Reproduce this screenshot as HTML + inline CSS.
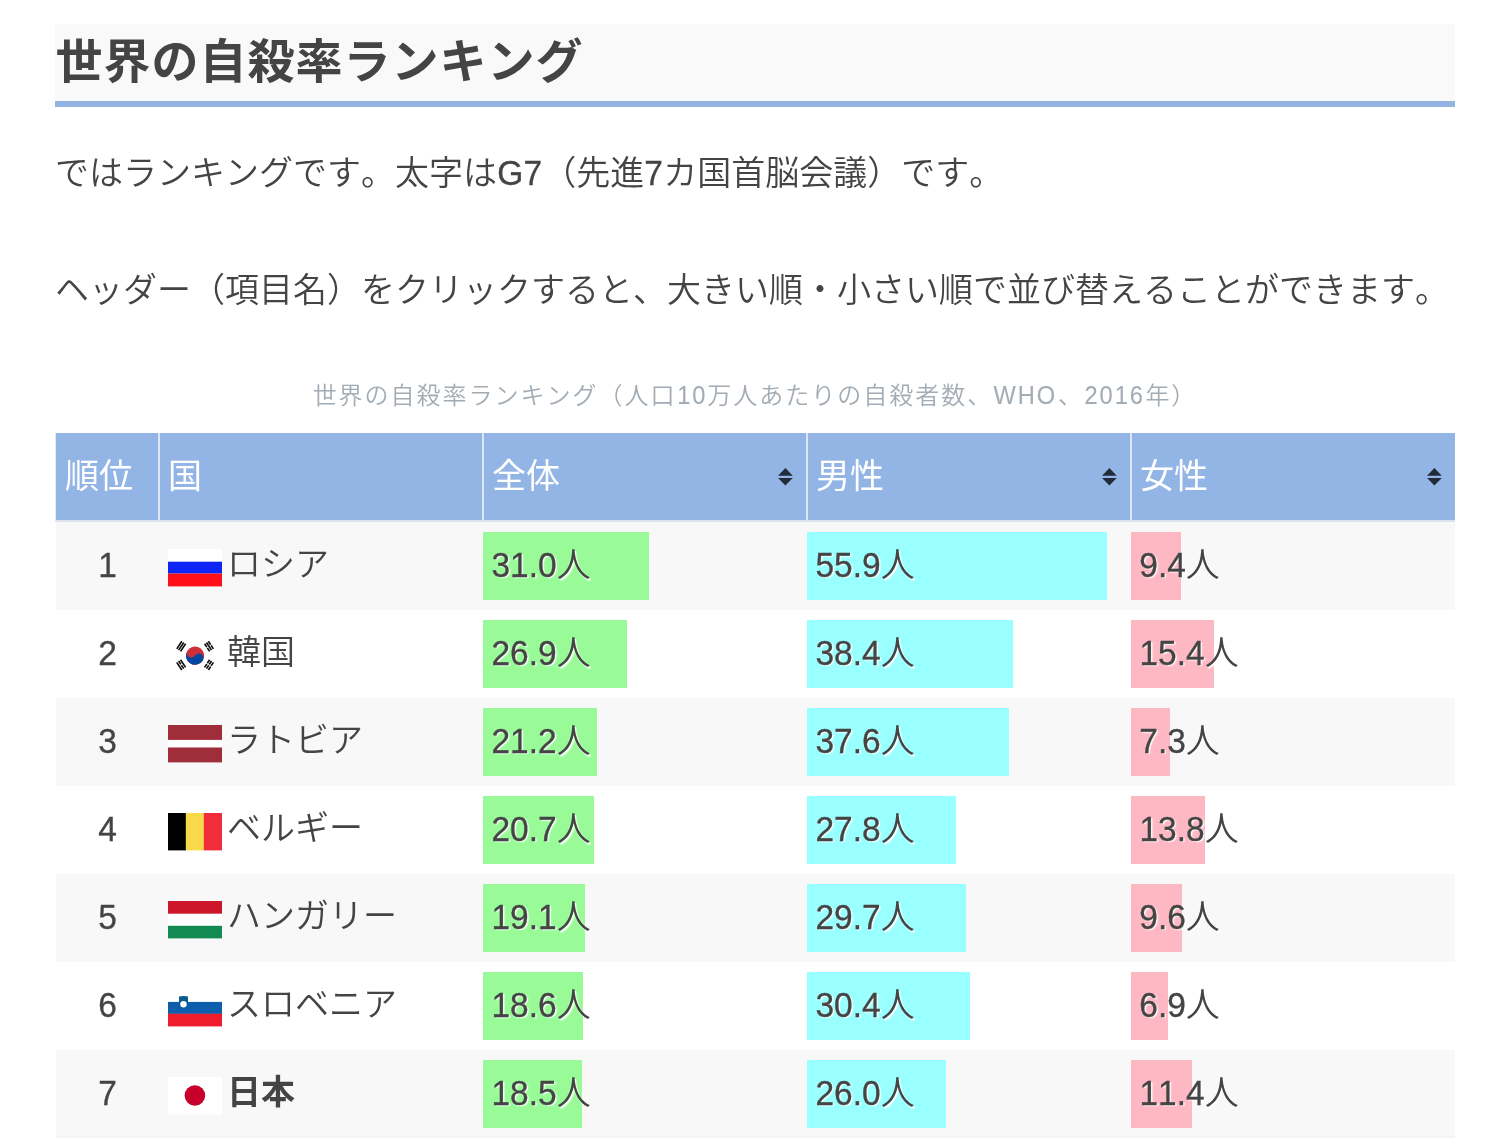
<!DOCTYPE html>
<html lang="ja">
<head>
<meta charset="utf-8">
<title>世界の自殺率ランキング</title>
<style>
*{box-sizing:border-box;margin:0;padding:0}
html,body{width:1504px;height:1148px;background:#fff;overflow:hidden}
body{position:relative;font-family:"Liberation Sans","Noto Sans CJK JP",sans-serif;color:#444;font-size:34px;font-weight:350;font-kerning:none;text-spacing-trim:space-all}
h2{position:absolute;left:55px;top:24px;width:1400px;height:83px;background:#f9f9f9;border-bottom:6px solid #93b3e3;font-size:47px;letter-spacing:1px;font-weight:bold;line-height:70px;padding:3px 0 0 .5px;color:#444;white-space:nowrap}
p{position:absolute;left:55px;width:1440px;white-space:nowrap;line-height:60px;height:60px;font-size:34px}
#p1{top:143px}
#p2{top:260px}
.cap{position:absolute;left:55px;width:1400px;top:378px;text-align:center;font-size:24px;line-height:36px;color:#a3acb5;letter-spacing:2px;white-space:nowrap}
table{position:absolute;left:56px;top:433px;width:1399px;border-collapse:separate;border-spacing:0;table-layout:fixed}
th{height:89px;background:#93b5e6;color:#fff;font-weight:normal;text-align:left;padding:0 0 2px 8px;border-right:2px solid #dde7f5;border-bottom:2px solid #dde3ec;position:relative;vertical-align:middle;line-height:60px}
th:last-child{border-right:0}
th:first-child{padding-left:9px;box-shadow:-1px 0 0 #e3e9f3}
tbody tr:last-child td{box-shadow:inset 0 -2px 0 #f4f4f4}
td{height:88px;vertical-align:middle;position:relative;padding:0;line-height:60px}
tbody tr:nth-child(odd) td{background:#f8f8f8}
td.r{text-align:center;padding:0 2px 2px 0}
td.c{padding-left:8px}
td.c span{position:relative;top:-2px;margin-left:59px}
.bar{position:absolute;left:-1px;top:10px;height:68px}
.g{background:#98fb98}.b{background:#9ff}.k{background:#feb8c3}
.v{position:absolute;left:6.5px;top:13px;line-height:60px;text-shadow:1.5px 1.5px 1.5px #fff;white-space:nowrap}
.flag{position:absolute;left:8px;top:27.3px;width:54px;height:37.4px}
.sort{position:absolute;right:13.4px;top:35.2px;width:14.8px;height:17.6px}
b{font-weight:bold}
i{font-style:normal;display:inline-block;transform:scale(.985,1.035);transform-origin:50% 78%;-webkit-text-stroke:.3px currentColor}
.cap i{-webkit-text-stroke:.1px currentColor}
</style>
</head>
<body>
<h2>世界の自殺率ランキング</h2>
<p id="p1">ではランキングです。太字は<i>G7</i>（先進<i>7</i>カ国首脳会議）です。</p>
<p id="p2">ヘッダー（項目名）をクリックすると、大きい順・小さい順で並び替えることができます。</p>
<div class="cap">世界の自殺率ランキング（人口<i>10</i>万人あたりの自殺者数、<i>WHO</i>、<i>2016</i>年）</div>
<table>
<colgroup><col style="width:104px"><col style="width:324px"><col style="width:324px"><col style="width:324px"><col style="width:323px"></colgroup>
<thead><tr>
<th>順位</th><th>国</th>
<th>全体<svg class="sort" viewBox="0 0 15 18"><path d="M7.5 0L15 8H0Z M0 10.2H15L7.5 18Z" fill="#222b38"/></svg></th>
<th>男性<svg class="sort" viewBox="0 0 15 18"><path d="M7.5 0L15 8H0Z M0 10.2H15L7.5 18Z" fill="#222b38"/></svg></th>
<th>女性<svg class="sort" viewBox="0 0 15 18"><path d="M7.5 0L15 8H0Z M0 10.2H15L7.5 18Z" fill="#222b38"/></svg></th>
</tr></thead>
<tbody>
<tr><td class="r"><i>1</i></td><td class="c"><svg class="flag" viewBox="0 0 54 37.4" preserveAspectRatio="none"><rect width="54" height="37.4" fill="#fff"/><rect y="12.7" width="54" height="11.9" fill="#0c24f6"/><rect y="24.6" width="54" height="12.8" fill="#ff1019"/></svg><span>ロシア</span></td><td><div class="bar g" style="width:166px"></div><span class="v"><i>31.0</i>人</span></td><td><div class="bar b" style="width:300px"></div><span class="v"><i>55.9</i>人</span></td><td><div class="bar k" style="width:50px"></div><span class="v"><i>9.4</i>人</span></td></tr>
<tr><td class="r"><i>2</i></td><td class="c"><svg class="flag" viewBox="0 0 54 37.4" preserveAspectRatio="none"><rect width="54" height="37.4" fill="#fff"/><g transform="translate(27.1,18.6) scale(0.76)"><g transform="rotate(-56.31)"><path d="M-6-25H6M-6-22H6M-6-19H6M-6 19H6M-6 22H6M-6 25H6" stroke="#111" stroke-width="2.2"/><path d="M0 17v10" stroke="#fff" stroke-width="1.2"/><circle r="12" fill="#cd2e3a"/><path d="M0-12A6 6 0 0 0 0 0A6 6 0 0 1 0 12A12 12 0 0 1 0-12Z" fill="#0047a0"/></g><g transform="rotate(-123.69)"><path d="M-6-25H6M-6-22H6M-6-19H6M-6 19H6M-6 22H6M-6 25H6" stroke="#111" stroke-width="2.2"/><path d="M0-23.5v3M0 17v3.5M0 23.5v3" stroke="#fff" stroke-width="1.2"/></g></g></svg><span>韓国</span></td><td><div class="bar g" style="width:144px"></div><span class="v"><i>26.9</i>人</span></td><td><div class="bar b" style="width:206px"></div><span class="v"><i>38.4</i>人</span></td><td><div class="bar k" style="width:83px"></div><span class="v"><i>15.4</i>人</span></td></tr>
<tr><td class="r"><i>3</i></td><td class="c"><svg class="flag" viewBox="0 0 54 37.4" preserveAspectRatio="none"><rect width="54" height="37.4" fill="#a02d3a"/><rect y="14.9" width="54" height="7.6" fill="#fff"/></svg><span>ラトビア</span></td><td><div class="bar g" style="width:114px"></div><span class="v"><i>21.2</i>人</span></td><td><div class="bar b" style="width:202px"></div><span class="v"><i>37.6</i>人</span></td><td><div class="bar k" style="width:39px"></div><span class="v"><i>7.3</i>人</span></td></tr>
<tr><td class="r"><i>4</i></td><td class="c"><svg class="flag" viewBox="0 0 54 37.4" preserveAspectRatio="none"><rect width="18" height="37.4" fill="#000"/><rect x="17.8" width="18.2" height="37.4" fill="#f8d94a"/><rect x="35.8" width="18.2" height="37.4" fill="#f12d3c"/></svg><span>ベルギー</span></td><td><div class="bar g" style="width:111px"></div><span class="v"><i>20.7</i>人</span></td><td><div class="bar b" style="width:149px"></div><span class="v"><i>27.8</i>人</span></td><td><div class="bar k" style="width:74px"></div><span class="v"><i>13.8</i>人</span></td></tr>
<tr><td class="r"><i>5</i></td><td class="c"><svg class="flag" viewBox="0 0 54 37.4" preserveAspectRatio="none"><rect width="54" height="37.4" fill="#fff"/><rect width="54" height="12.7" fill="#cd1629"/><rect y="24.8" width="54" height="12.6" fill="#128a52"/></svg><span>ハンガリー</span></td><td><div class="bar g" style="width:102px"></div><span class="v"><i>19.1</i>人</span></td><td><div class="bar b" style="width:159px"></div><span class="v"><i>29.7</i>人</span></td><td><div class="bar k" style="width:51px"></div><span class="v"><i>9.6</i>人</span></td></tr>
<tr><td class="r"><i>6</i></td><td class="c"><svg class="flag" viewBox="0 0 54 37.4" preserveAspectRatio="none"><rect width="54" height="37.4" fill="#fff"/><rect y="12.9" width="54" height="12" fill="#0d5fae"/><rect y="24.8" width="54" height="12.6" fill="#ee1c2c"/><path d="M11 7.6Q15.5 6.4 20 7.6V14.5Q20 18.6 15.5 19.6Q11 18.6 11 14.5Z" fill="#0b5a8e"/><circle cx="15.5" cy="15.3" r="3.2" fill="#fff"/></svg><span>スロベニア</span></td><td><div class="bar g" style="width:100px"></div><span class="v"><i>18.6</i>人</span></td><td><div class="bar b" style="width:163px"></div><span class="v"><i>30.4</i>人</span></td><td><div class="bar k" style="width:37px"></div><span class="v"><i>6.9</i>人</span></td></tr>
<tr><td class="r"><i>7</i></td><td class="c"><svg class="flag" viewBox="0 0 54 37.4" preserveAspectRatio="none"><rect width="54" height="37.4" fill="#fff"/><circle cx="26.9" cy="18.5" r="10.3" fill="#c6002b"/></svg><span><b>日本</b></span></td><td><div class="bar g" style="width:99px"></div><span class="v"><i>18.5</i>人</span></td><td><div class="bar b" style="width:139px"></div><span class="v"><i>26.0</i>人</span></td><td><div class="bar k" style="width:61px"></div><span class="v"><i>11.4</i>人</span></td></tr>
</tbody>
</table>
</body>
</html>
